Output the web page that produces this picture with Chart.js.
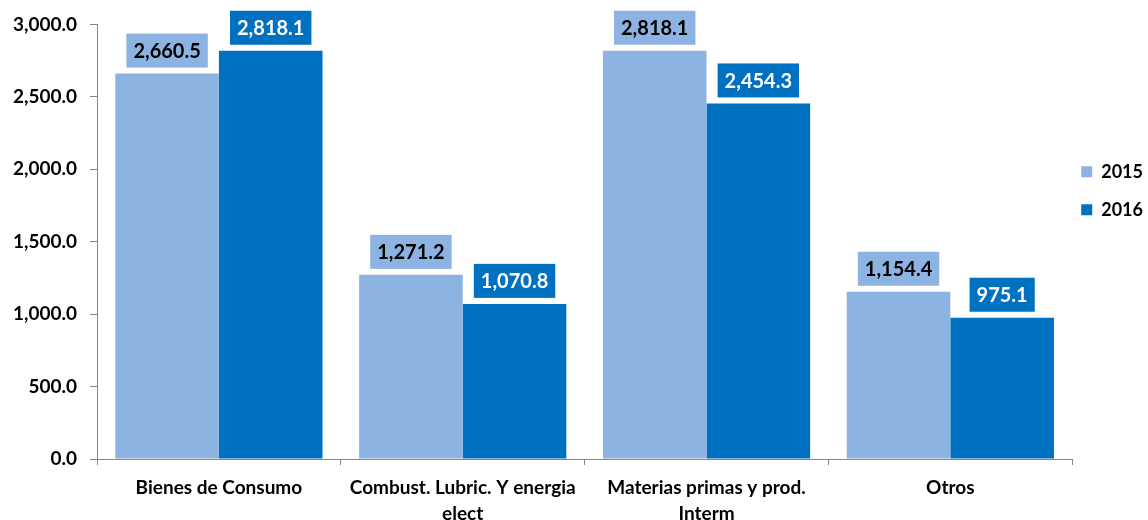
<!DOCTYPE html>
<html>
<head>
<meta charset="utf-8">
<script src="https://cdn.jsdelivr.net/npm/chart.js@4/dist/chart.umd.min.js"></script>
<style>
  html, body { margin: 0; padding: 0; background: #fff; }
  #wrap { width: 1148px; height: 520px; }
</style>
</head>
<body>
<div id="wrap"><canvas id="importChart"></canvas></div>
<script>
// datos del grafico
const categorias = [
    'Bienes de Consumo',
    ['Combust. Lubric. Y energia', 'elect'],
    ['Materias primas y prod.', 'Interm'],
    'Otros'
];
const serie2015 = [2660.5, 1271.2, 2818.1, 1154.4];
const serie2016 = [2818.1, 1070.8, 2454.3, 975.1];
const etiquetasY = [0, 500, 1000, 1500, 2000, 2500, 3000];

const FONT = 'Lato, "Open Sans", sans-serif';
const fmt = v => v.toLocaleString('en-US', { minimumFractionDigits: 1, maximumFractionDigits: 1 });

// etiquetas con caja encima de cada barra
const cajasPlugin = {
    id: 'cajas',
    afterDatasetsDraw(chart) {
        const ctx = chart.ctx;
        ctx.save();
        ctx.font = 'bold 20px ' + FONT;
        ctx.textAlign = 'center';
        ctx.textBaseline = 'middle';
        chart.data.datasets.forEach((ds, i) => {
            const meta = chart.getDatasetMeta(i);
            meta.data.forEach((bar, j) => {
                const txt = fmt(ds.data[j]);
                const w = ctx.measureText(txt).width + 14;
                const h = 34;
                const bottom = bar.y - 6;
                ctx.fillStyle = ds.labelBg;
                ctx.fillRect(bar.x - w / 2, bottom - h, w, h);
                ctx.fillStyle = ds.labelColor;
                ctx.fillText(txt, bar.x, bottom - h / 2 + 1);
            });
        });
        ctx.restore();
    }
};

// acerca la leyenda al area del grafico
const leyendaPlugin = {
    id: 'leyendaPos',
    afterLayout(chart) {
        if (chart.legend) {
            chart.legend.left = chart.chartArea.right - 11;
        }
    }
};

const ctx = document.getElementById('importChart').getContext('2d');
new Chart(ctx, {
    type: 'bar',
    data: {
        labels: categorias,
        datasets: [{
            label: '2015',
            data: serie2015,
            backgroundColor: '#8DB3E2',
            labelBg: '#8DB3E2',
            labelColor: '#000'
        }, {
            label: '2016',
            data: serie2016,
            backgroundColor: '#0070C0',
            labelBg: '#0070C0',
            labelColor: '#fff'
        }]
    },
    options: {
        responsive: true,
        maintainAspectRatio: false,
        animation: false,
        layout: { padding: { top: 23, left: 10, right: -16, bottom: 0 } },
        datasets: {
            bar: { categoryPercentage: 0.85, barPercentage: 1 }
        },
        scales: {
            x: {
                grid: { display: true, drawOnChartArea: false, drawTicks: true, tickLength: 6, color: '#868686', offset: true },
                border: { display: true, color: '#868686' },
                ticks: {
                    color: '#000',
                    font: { family: FONT, size: 19, weight: 'bold', lineHeight: 1.35 },
                    padding: 10,
                    maxRotation: 0,
                    autoSkip: false
                },
                afterFit(scale) { scale.height = 61; }
            },
            y: {
                min: 0,
                max: 3000,
                afterBuildTicks(scale) {
                    scale.ticks = etiquetasY.map(v => ({ value: v }));
                },
                grid: { drawOnChartArea: false, drawTicks: true, tickLength: 7, color: '#868686' },
                border: { display: true, color: '#868686' },
                ticks: {
                    color: '#000',
                    font: { family: FONT, size: 19, weight: 'bold' },
                    padding: 13,
                    callback: v => fmt(v)
                },
                afterFit(scale) { scale.width = 87; }
            }
        },
        plugins: {
            legend: {
                position: 'right',
                fullSize: false,
                align: 'start',
                title: { display: true, text: '', padding: { top: 104, bottom: 0 } },
                labels: {
                    boxWidth: 11,
                    boxHeight: 11,
                    padding: 20,
                    color: '#000',
                    font: { family: FONT, size: 18, weight: 'bold' }
                }
            },
            tooltip: { enabled: false }
        }
    },
    plugins: [cajasPlugin, leyendaPlugin]
});
</script>
</body>
</html>
